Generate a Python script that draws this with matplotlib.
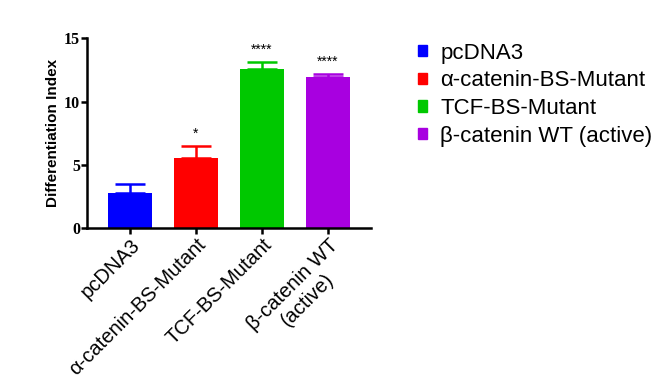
import matplotlib.pyplot as plt
from matplotlib.patches import Patch

# data
groups = ["pcDNA3", "α-catenin-BS-Mutant", "TCF-BS-Mutant", "β-catenin WT\n(active)"]
legend_labels = ["pcDNA3", "α-catenin-BS-Mutant", "TCF-BS-Mutant", "β-catenin WT (active)"]
means = [2.76, 5.53, 12.55, 11.97]
sem = [0.72, 0.95, 0.55, 0.2]
stars = ["", "*", "****", "****"]
colors = ["#0000FF", "#FF0000", "#00C800", "#A800E0"]

fig = plt.figure(figsize=(6.62, 3.88), dpi=100)
ax = fig.add_axes([0.1314, 0.4116, 0.429, 0.4897])

x = list(range(len(groups)))
ax.bar(x, means, width=0.667, color=colors, zorder=2)
for xi, m, e, c in zip(x, means, sem, colors):
    ax.errorbar(xi, m, yerr=[[0], [e]], fmt="none", ecolor=c, elinewidth=1.8,
                capsize=11, capthick=1.8, zorder=1)
for xi, m, e, s in zip(x, means, sem, stars):
    if s:
        ax.text(xi, m + e + 0.45, s, ha="center", va="bottom", fontsize=10,
                family="Liberation Sans")

ax.set_xlim(-0.65, 3.65)
ax.set_ylim(0, 15)
ax.set_yticks([0, 5, 10, 15])
ax.set_yticklabels(["0", "5", "10", "15"], family="Liberation Serif",
                   fontweight="bold", fontsize=11.5)
ax.set_xticks(x)
ax.set_xticklabels(groups, rotation=45, ha="right", rotation_mode="anchor",
                   family="Liberation Sans", fontsize=14.5, multialignment="center")
ax.set_ylabel("Differentiation Index", family="Liberation Sans",
              fontweight="bold", fontsize=11, labelpad=3)

for side in ["top", "right"]:
    ax.spines[side].set_visible(False)
for side in ["left", "bottom"]:
    ax.spines[side].set_linewidth(1.8)
ax.tick_params(width=1.8, length=4, pad=1)

handles = [Patch(color=c) for c in colors]
fig.legend(handles, legend_labels, loc="upper left",
           bbox_to_anchor=(0.618, 0.913), frameon=False,
           prop={"family": "Liberation Sans", "size": 16},
           handlelength=0.4, handleheight=0.4, handletextpad=0.6,
           labelspacing=0.3, borderaxespad=0)

fig.savefig("out.png", dpi=100)
